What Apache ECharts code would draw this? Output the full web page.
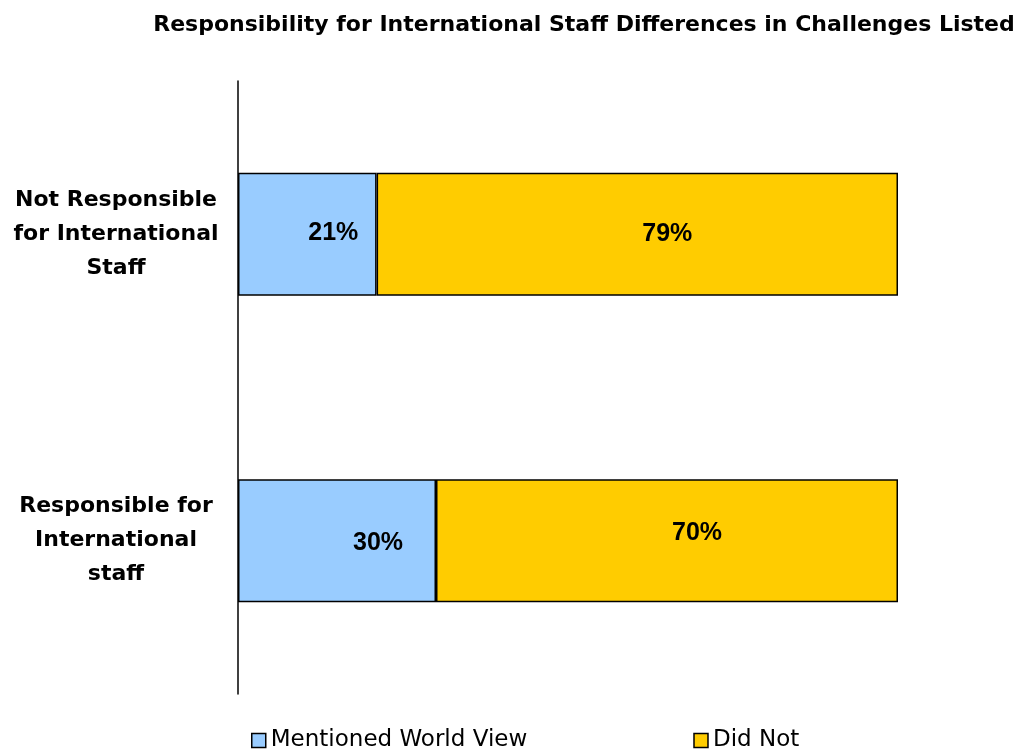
<!DOCTYPE html>
<html>
<head>
<meta charset="utf-8">
<script src="https://cdn.jsdelivr.net/npm/echarts@6/dist/echarts.min.js"></script>
<style>html,body{margin:0;padding:0;background:#fff}#c{width:1023px;height:754px}</style>
</head>
<body>
<div id="c"></div>
<script>
const titleText = 'Responsibility for International Staff Differences in Challenges Listed';
const categories = ['Not Responsible\nfor International\nStaff', 'Responsible for\nInternational\nstaff'];
const seriesNames = ['Mentioned World View', 'Did Not'];
const mentioned = [21, 30];
const didNot = [79, 70];

const colors = ['#99CCFF', '#FFCC00'];
const labelOffsets = [
  [[26, -1], [41, 2]],
  [[30, 0], [30, -8]]
];
const FONT = 'Liberation Sans, Arial, sans-serif';
const WIDE = 'DejaVu Sans, sans-serif';

function mk(vals, si) {
  return vals.map((v, i) => ({ value: v, label: { offset: labelOffsets[si][i] } }));
}

const chart = echarts.init(document.getElementById('c'));
chart.setOption({
  animation: false,
  title: {
    text: titleText,
    left: 579, textAlign: 'center', top: 9,
    textStyle: { fontFamily: WIDE, fontWeight: 'bold', fontSize: 22, color: '#000' }
  },
  legend: {
    data: seriesNames,
    left: 251, top: 729, padding: 0,
    itemWidth: 14, itemHeight: 14, itemGap: 166,
    icon: 'rect',
    itemStyle: { borderColor: '#000', borderWidth: 1.5 },
    textStyle: { fontFamily: WIDE, fontSize: 23, color: '#000' }
  },
  grid: { left: 238, right: 125, top: 81, bottom: 60, containLabel: false },
  xAxis: {
    type: 'value', min: 0, max: 100, show: false
  },
  yAxis: {
    type: 'category', data: categories, inverse: true,
    axisLine: { show: true, lineStyle: { color: '#000', width: 1.5 } },
    axisTick: { show: false },
    axisLabel: {
      align: 'center', margin: 122, lineHeight: 34,
      fontFamily: WIDE, fontWeight: 'bold', fontSize: 22, color: '#000'
    }
  },
  series: [
    { name: seriesNames[0], type: 'bar', stack: 's', data: mk(mentioned, 0), barWidth: 123 },
    { name: seriesNames[1], type: 'bar', stack: 's', data: mk(didNot, 1), barWidth: 123 }
  ].map((s, si) => Object.assign(s, {
    itemStyle: { color: colors[si], borderColor: '#000', borderWidth: 1.5 },
    label: {
      show: true, position: 'inside', formatter: '{c}%',
      fontFamily: FONT, fontWeight: 'bold', fontSize: 25, color: '#000'
    }
  }))
});
</script>
</body>
</html>
